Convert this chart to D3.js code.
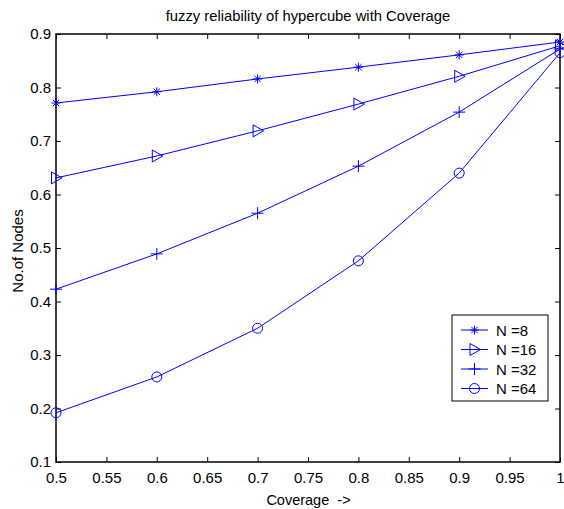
<!DOCTYPE html>
<meta charset="utf-8">
<head>
    <title>fuzzy reliability of hypercube with Coverage</title>
    <script src="https://d3js.org/d3.v7.min.js"></script>
    <style>
        body { margin: 0; background: #fff; }
        text { font-family: Arial, "Liberation Sans", sans-serif; fill: #000; }
    </style>
</head>
<body>
<svg id="chart"></svg>
<script>
    // data
    var coverage = [0.5, 0.6, 0.7, 0.8, 0.9, 1.0];
    var n8  = [0.771, 0.792, 0.816, 0.838, 0.861, 0.885];
    var n16 = [0.631, 0.672, 0.719, 0.769, 0.821, 0.878];
    var n32 = [0.423, 0.489, 0.565, 0.653, 0.754, 0.872];
    var n64 = [0.192, 0.259, 0.350, 0.476, 0.640, 0.865];
    var seriesNames = ["N =8", "N =16", "N =32", "N =64"];
    var markers = ["star", "triangle", "plus", "circle"];
    var xTicks = [0.5, 0.55, 0.6, 0.65, 0.7, 0.75, 0.8, 0.85, 0.9, 0.95, 1];
    var yTicks = [0.1, 0.2, 0.3, 0.4, 0.5, 0.6, 0.7, 0.8, 0.9];

    var series = [n8, n16, n32, n64].map(function(vals, i) {
        return { name: seriesNames[i], marker: markers[i],
                 values: vals.map(function(v, j) { return { x: coverage[j], y: v }; }) };
    });

    var W = 564, H = 509;
    var margin = { top: 34, right: 4, bottom: 47, left: 56 };
    var width = W - margin.left - margin.right;
    var height = H - margin.top - margin.bottom;
    var blue = "#0000ff";
    var fs = "15px";

    var svg = d3.select("#chart").attr("width", W).attr("height", H);
    var g = svg.append("g").attr("transform", "translate(" + margin.left + "," + margin.top + ")");

    var x = d3.scaleLinear().domain([0.5, 1]).range([0, width]);
    var y = d3.scaleLinear().domain([0.1, 0.9]).range([height, 0]);

    // axes (ticks inside, box on all sides)
    var tl = 5;
    g.append("g").attr("transform", "translate(0," + height + ")")
        .call(d3.axisBottom(x).tickValues(xTicks).tickSizeInner(-tl).tickSizeOuter(0).tickPadding(10).tickFormat(d3.format("")))
        .call(function(a) { a.select(".domain").remove(); });
    g.append("g")
        .call(d3.axisTop(x).tickValues(xTicks).tickSizeInner(-tl).tickSizeOuter(0).tickFormat(""))
        .call(function(a) { a.select(".domain").remove(); });
    g.append("g")
        .call(d3.axisLeft(y).tickValues(yTicks).tickSizeInner(-tl).tickSizeOuter(0).tickPadding(5).tickFormat(d3.format("")))
        .call(function(a) { a.select(".domain").remove(); });
    g.append("g").attr("transform", "translate(" + width + ",0)")
        .call(d3.axisRight(y).tickValues(yTicks).tickSizeInner(-tl).tickSizeOuter(0).tickFormat(""))
        .call(function(a) { a.select(".domain").remove(); });
    g.selectAll(".tick text").style("font-size", fs).style("font-family", "Arial, 'Liberation Sans', sans-serif");
    g.selectAll(".tick line").attr("stroke", "#000");

    g.append("rect").attr("width", width).attr("height", height)
        .attr("fill", "none").attr("stroke", "#000").attr("stroke-width", 1.5);

    var line = d3.line().x(function(d) { return x(d.x); }).y(function(d) { return y(d.y); });

    function drawMarker(sel, type) {
        if (type === "star") {
            sel.append("path").attr("d", "M-4.5,0H4.5M0,-4.5V4.5M-3.2,-3.2L3.2,3.2M-3.2,3.2L3.2,-3.2");
        } else if (type === "triangle") {
            sel.append("path").attr("d", "M-4.5,-6L6,0L-4.5,6Z");
        } else if (type === "plus") {
            sel.append("path").attr("d", "M-6,0H6M0,-6V6");
        } else {
            sel.append("circle").attr("r", 5);
        }
        sel.selectAll("path,circle").attr("fill", "none").attr("stroke", blue).attr("stroke-width", 1);
    }

    series.forEach(function(s) {
        g.append("path").datum(s.values).attr("d", line)
            .attr("fill", "none").attr("stroke", blue).attr("stroke-width", 1);
        g.selectAll(null).data(s.values).enter().append("g")
            .attr("transform", function(d) { return "translate(" + x(d.x) + "," + y(d.y) + ")"; })
            .each(function() { drawMarker(d3.select(this), s.marker); });
    });

    // legend
    var lg = g.append("g").attr("transform", "translate(" + (452 - margin.left) + "," + (315 - margin.top) + ")");
    lg.append("rect").attr("width", 96).attr("height", 86)
        .attr("fill", "#fff").attr("stroke", "#000").attr("stroke-width", 1);
    series.forEach(function(s, i) {
        var row = lg.append("g").attr("transform", "translate(0," + (15 + i * 19.5) + ")");
        row.append("line").attr("x1", 9).attr("x2", 36)
            .attr("stroke", blue).attr("stroke-width", 1);
        row.append("g").attr("transform", "translate(22.5,0)").call(function(m) { drawMarker(m, s.marker); });
        row.append("text").attr("x", 44).attr("y", 5.5).style("font-size", fs).text(s.name);
    });

    // titles
    svg.append("text").attr("x", margin.left + width / 2).attr("y", 21)
        .attr("text-anchor", "middle").style("font-size", "14.8px")
        .text("fuzzy reliability of hypercube with Coverage");
    svg.append("text").attr("x", margin.left + width / 2 + 0.5).attr("y", 505)
        .attr("text-anchor", "middle").style("font-size", "14.5px").style("white-space", "pre")
        .text("Coverage  ->");
    svg.append("text").attr("transform", "translate(23," + (margin.top + height / 2 + 3) + ") rotate(-90)")
        .attr("text-anchor", "middle").style("font-size", "15px")
        .text("No.of Nodes");
</script>
</body>
</html>
